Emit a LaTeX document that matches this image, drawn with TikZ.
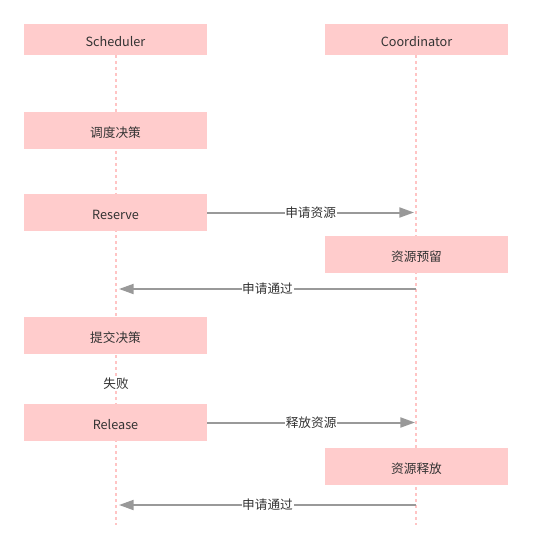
\documentclass[tikz,border=0pt]{standalone}
\usepackage{fontspec}
\setmainfont{Noto Sans CJK SC}
\usetikzlibrary{arrows.meta}
\definecolor{boxpink}{HTML}{FFCCCC}
\definecolor{linepink}{HTML}{FFC4C4}
\definecolor{txt}{HTML}{333333}
\definecolor{arr}{HTML}{999999}
\begin{document}
\begin{tikzpicture}[x=0.75pt,y=-0.75pt,
  box/.style={fill=boxpink,draw=none,minimum width=137.25pt,minimum height=27.75pt,inner sep=0pt,text height=10.3pt,text depth=0.5pt,font=\fontsize{9.5}{11}\selectfont,text=txt},
  headbox/.style={box,minimum height=23.25pt},
  lifeline/.style={draw=linepink,line width=1.5pt,dash pattern=on 2.25pt off 2.25pt},
  msg/.style={draw=arr,line width=1.5pt,-{Triangle[length=11pt,width=7.5pt]}},
  lbl/.style={fill=white,inner sep=0.5pt,font=\fontsize{9.5}{11}\selectfont,text=txt}]
\useasboundingbox (0,0) rectangle (533,552);
% lifelines
\coordinate (stop) at (116,55);
\coordinate (sbot) at (116,525);
\coordinate (ctop) at (416,55);
\coordinate (cbot) at (416,525);
\draw[lifeline] (stop) -- (sbot);
\draw[lifeline] (ctop) -- (cbot);
% boxes
\node[headbox] (sched) at (115.5,39.5) {Scheduler};
\node[headbox] (coord) at (416.5,39.5) {Coordinator};
\node[box] (decide) at (115.5,130.5) {调度决策};
\node[box] (reserve) at (115.5,212.5) {Reserve};
\node[box] (hold) at (416.5,254.5) {资源预留};
\node[box] (commit) at (115.5,335.5) {提交决策};
\node[lbl] (fail) at (116,383.5) {失败};
\node[box] (release) at (115.5,422.5) {Release};
\node[box] (free) at (416.5,466.5) {资源释放};
% message endpoints
\coordinate (a1e) at (414,212.5);
\coordinate (a2s) at (416,289);
\coordinate (a2e) at (119,289);
\coordinate (a3e) at (415,422.5);
\coordinate (a4s) at (416,505);
\coordinate (a4e) at (119,505);
\draw[msg] (reserve.east) -- node[lbl] {申请资源} (a1e);
\draw[msg] (a2s) -- node[lbl] {申请通过} (a2e);
\draw[msg] (release.east) -- node[lbl] {释放资源} (a3e);
\draw[msg] (a4s) -- node[lbl] {申请通过} (a4e);
\end{tikzpicture}
\end{document}
